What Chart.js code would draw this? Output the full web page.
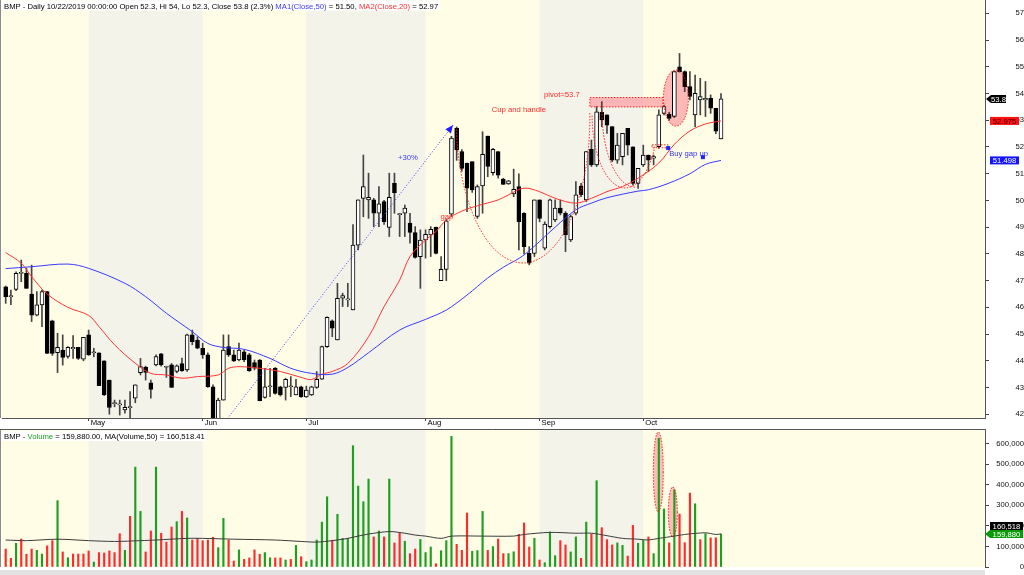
<!DOCTYPE html>
<html>
<head>
<meta charset="utf-8">
<script src="https://cdn.jsdelivr.net/npm/chart.js@4.4.0/dist/chart.umd.min.js"></script>
<style>
    html, body { margin: 0; padding: 0; background: #fff; overflow: hidden; }
    #wrap { position: relative; width: 1024px; height: 575px; }
    canvas { position: absolute; left: 0; }
    #priceChart { top: 0; }
    #volChart { top: 429px; }
</style>
</head>
<body>
<div id="wrap">
    <canvas id="priceChart" width="1024" height="429"></canvas>
    <canvas id="volChart" width="1024" height="146"></canvas>
</div>
<script>
// daily bars, 5 Apr .. 22 Oct 2019
const opens = [46.77,46.40,46.67,47.27,47.27,46.50,45.71,46.09,46.59,45.50,
    44.30,44.40,44.16,44.45,44.50,44.06,44.97,44.30,44.30,44.00,
    43.28,42.40,42.35,42.16,42.25,42.60,43.56,43.76,43.18,43.85,
    44.26,43.76,43.85,43.60,43.90,43.66,44.97,44.78,44.47,44.22,
    43.03,41.70,42.53,44.53,44.22,44.03,44.34,44.22,43.93,44.03,
    42.63,43.03,43.72,43.03,43.00,43.03,42.72,43.03,42.65,42.72,
    43.00,43.31,44.53,45.50,44.78,46.34,46.28,45.90,48.33,50.08,
    50.02,50.02,49.52,49.96,48.99,50.64,49.47,49.52,49.15,48.80,
    47.90,48.52,48.71,48.99,47.00,47.42,49.49,52.70,51.83,51.39,
    51.45,49.40,50.54,52.41,51.04,51.83,50.80,50.62,50.24,50.52,
    49.52,48.02,48.02,50.02,48.21,49.02,49.27,49.71,49.52,48.52,
    49.52,50.54,50.02,51.91,51.33,53.30,53.20,52.76,51.51,51.64,
    52.70,52.01,50.64,51.33,51.70,51.58,52.01,53.26,53.22,53.14,
    55.00,54.82,54.26,53.20,53.76,53.76,53.82,53.45,52.30];
const highs = [46.80,46.65,47.33,47.77,47.46,47.58,46.59,46.65,46.60,45.52,
    45.03,44.97,44.53,44.94,44.50,44.88,45.15,44.47,44.30,44.00,
    43.28,42.53,42.53,42.53,42.85,43.10,44.09,43.80,43.28,44.22,
    44.28,43.80,43.90,43.85,44.10,45.00,45.15,44.90,44.66,44.30,
    43.10,42.60,44.97,44.97,44.40,44.66,44.40,44.28,44.03,44.05,
    43.72,43.72,43.75,43.05,43.35,43.41,43.31,43.05,43.05,43.05,
    43.60,44.55,45.65,45.53,46.90,46.53,46.90,49.10,50.02,51.70,
    51.02,50.08,50.52,50.00,51.02,51.02,49.52,49.83,49.52,49.02,
    48.90,48.90,49.02,49.00,47.90,49.30,52.40,52.75,51.90,51.40,
    51.45,50.58,52.57,52.41,51.95,51.83,50.83,50.75,51.17,51.00,
    49.55,48.27,50.02,50.02,49.20,50.05,50.02,50.02,49.58,49.46,
    50.71,50.64,51.83,52.26,53.51,53.70,53.20,52.76,52.51,52.51,
    52.70,52.01,51.20,52.07,51.70,51.70,53.39,53.57,53.30,54.82,
    55.50,54.85,54.82,54.69,54.57,54.45,53.95,53.45,54.00];
const lows = [46.15,46.10,46.62,46.96,46.71,45.47,45.68,45.28,44.28,44.20,
    43.56,43.84,44.10,44.09,44.05,44.00,44.20,44.15,43.07,42.70,
    42.00,42.28,41.97,42.04,41.85,42.43,43.47,43.28,42.60,43.81,
    43.80,43.38,43.00,43.55,43.60,43.60,44.60,44.45,44.09,43.00,
    41.40,41.60,42.53,44.16,43.97,44.00,43.97,43.60,43.66,42.50,
    42.60,42.66,42.75,42.68,42.53,42.66,42.72,42.63,42.63,42.70,
    42.97,43.30,44.50,44.90,44.78,46.03,46.03,45.90,48.15,49.39,
    49.33,49.02,49.02,49.10,48.65,49.52,48.65,48.65,48.40,47.84,
    46.71,47.84,47.90,48.00,47.00,47.00,49.40,51.50,51.10,49.58,
    50.30,49.33,49.52,50.89,50.95,50.83,50.60,50.60,50.14,48.15,
    48.00,47.59,47.90,49.20,48.15,48.96,49.21,49.46,48.08,48.46,
    49.46,50.14,49.96,51.27,51.27,52.76,52.51,51.45,51.39,51.33,
    51.70,50.58,50.45,51.27,51.08,51.33,51.95,53.20,53.00,53.10,
    54.80,54.07,53.76,52.76,53.20,53.14,53.26,52.50,52.30];
const closes = [46.40,46.42,47.27,47.30,46.71,45.71,46.09,46.59,44.28,44.28,
    44.50,44.13,44.50,44.50,44.09,44.88,44.22,44.30,43.07,42.72,
    42.26,42.40,42.35,42.26,42.25,43.10,43.78,43.57,42.93,44.16,
    43.85,43.76,43.00,43.81,43.63,44.97,44.72,44.47,44.22,43.03,
    41.60,42.53,44.40,44.22,44.00,44.40,44.03,43.63,43.72,42.51,
    43.03,43.05,42.78,42.72,43.31,43.03,43.03,42.66,42.90,43.03,
    43.31,44.53,45.63,45.22,46.34,46.44,46.30,48.33,50.02,50.52,
    50.12,49.52,49.87,49.21,50.12,50.29,49.47,49.71,48.80,47.87,
    48.52,48.73,48.92,48.02,47.42,49.24,52.33,51.89,51.20,50.46,
    50.39,50.52,51.73,51.27,51.91,50.95,50.60,50.73,50.42,49.21,
    48.27,47.65,50.02,49.33,49.12,50.02,49.71,49.52,48.71,49.40,
    50.21,50.21,51.83,51.33,53.32,53.01,52.82,51.51,52.07,52.51,
    52.07,50.64,51.20,51.70,51.51,51.64,53.20,53.51,53.07,54.82,
    54.82,54.26,53.89,54.01,53.89,53.82,53.45,52.59,53.80];
const volumes = [87000,42000,115000,136000,62000,87000,81000,63000,103000,128000,
    322000,73000,45000,63000,63000,63000,78000,24000,70000,68000,
    78000,70000,162000,81000,246000,485000,270000,73000,175000,485000,
    164000,121000,194000,220000,270000,238000,131000,139000,128000,131000,
    144000,94000,236000,130000,29000,83000,37000,44000,83000,62000,
    70000,45000,44000,44000,34000,37000,105000,50000,26000,34000,
    131000,218000,341000,130000,256000,139000,139000,589000,393000,317000,
    427000,146000,175000,146000,427000,117000,164000,125000,65000,87000,
    134000,70000,97000,16000,79000,128000,634000,110000,81000,262000,
    76000,80000,270000,81000,99000,136000,65000,65000,74000,159000,
    214000,97000,139000,34000,21000,170000,55000,128000,107000,73000,
    146000,42000,218000,159000,419000,191000,133000,107000,117000,105000,
    53000,202000,115000,130000,146000,65000,625000,282000,117000,375000,
    257000,118000,359000,307000,133000,162000,141000,142000,159880];
// G = up volume bar, R = down volume bar
const volUp = 'RRGRRRGGRR' + 'GRGRRRRGRR' + 'RRRGRGGRRG' + 'RRRGRGRRRR' + 'RGGRRGRRRR' +
    'GGRRGRGRGG' + 'GGGRGGGGGG' + 'GRGRGRRGRR' + 'GGGRGGGRRR' + 'GGGRGRRGGR' +
    'RRGRGGGRRG' + 'GRGRGRRRGG' + 'RRGGRGGGRG' + 'RRRGRGRRG';

// moving averages at these bars
const ma50Bars = [0, 5, 12, 16, 23, 27, 31, 36, 39, 42, 46, 51, 55, 59, 63, 66, 70, 76, 81, 85, 89, 93, 96, 100, 106, 110, 113, 116, 122, 124, 128, 132, 135, 138];
const ma50Vals = [47.45, 47.52, 47.62, 47.46, 46.9, 46.4, 45.78, 45.09, 44.65, 44.5, 44.43, 44.09, 43.72, 43.53, 43.5, 43.75, 44.3, 45.15, 45.55, 45.9, 46.46, 47.1, 47.5, 47.96, 49.0, 49.65, 49.9, 50.1, 50.35, 50.4, 50.65, 51.0, 51.35, 51.498];
const ma20Bars = [0, 3, 5, 8, 12, 16, 18, 21, 25, 28, 31, 34, 37, 41, 43, 45, 49, 53, 57, 59, 61, 63, 66, 70, 73, 76, 78, 81, 83, 85, 88, 91, 95, 97, 100, 103, 106, 110, 113, 116, 119, 122, 126, 129, 132, 135, 138];
const ma20Vals = [48.05, 47.65, 47.15, 46.5, 46.0, 45.7, 45.28, 44.6, 43.91, 43.53, 43.47, 43.35, 43.41, 43.47, 43.72, 43.78, 43.72, 43.6, 43.38, 43.3, 43.5, 43.6, 43.9, 44.9, 46.03, 47.02, 47.9, 48.52, 48.83, 49.27, 49.6, 49.8, 50.02, 50.21, 50.46, 50.33, 50.08, 49.9, 50.08, 50.33, 50.52, 50.83, 51.4, 52.1, 52.6, 52.86, 52.975];
const volMaBars = [0, 4, 10, 16, 21, 26, 29, 35, 38, 44, 52, 57, 60, 63, 66, 68, 70, 74, 77, 79, 81, 84, 86, 92, 98, 100, 105, 110, 113, 116, 119, 122, 124, 126, 129, 131, 135, 137, 138];
const volMaVals = [131000, 128000, 135000, 128000, 124000, 128000, 131000, 139000, 139000, 135000, 131000, 124000, 121000, 128000, 139000, 150000, 160000, 172000, 164000, 155000, 150000, 139000, 150000, 150000, 150000, 158000, 168000, 164000, 164000, 152000, 139000, 135000, 131000, 139000, 150000, 158000, 166000, 158000, 160518];

const monthNames = ['May', 'Jun', 'Jul', 'Aug', 'Sep', 'Oct'];
const monthStarts = [16, 38, 58, 81, 103, 123];
const priceTicks = [42, 43, 44, 45, 46, 47, 48, 49, 50, 51, 52, 53, 54, 55, 56, 57];
const volTicks = [0, 100000, 200000, 300000, 400000, 500000, 600000];

// drawings on the chart, in bar / price units
const rallyLine = [[41, 41.39], [86.3, 52.82]];
const cupArc = { cx: 99.8, cy: 53.08, rx: 12.9, ry: 5.42, a0: -0.035, a1: 3.07 };
const handleArcs = [
    { cx: 119.5, cy: 53.2, rx: 6.37, ry: 2.73, a0: 0.45, a1: Math.PI },
    { cx: 121.4, cy: 53.38, rx: 6.37, ry: 2.88, a0: Math.PI / 2, a1: Math.PI }
];
const pivotBox = [112.7, 126.8, 53.5, 53.85];
const pivotOval = { cx: 129.3, cy: 53.83, rx: 2.41, ry: 1.05 };
const gapBox = [124.7, 127.8, 51.97, 52.08];
const buyMarks = [[127.8, 51.96], [134.5, 51.62]];
const priceNotes = [
    ['+30%', 77.6, 51.59, '#3b3bff', 'center'],
    ['Cup and handle', 99.0, 53.38, '#ff2a2a', 'center'],
    ['pivot=53.7', 107.3, 53.94, '#ff2a2a', 'center'],
    ['gap', 85.1, 49.38, '#ff2a2a', 'center'],
    ['Buy gap up', 128.0, 51.74, '#2f2fff', 'left']
];
const volOvals = [
    { cx: 125.9, cy: 461000, rx: 0.96, ry: 194000 },
    { cx: 128.7, cy: 267000, rx: 0.87, ry: 121000 }
];

const FONT = '"Liberation Sans", Arial, sans-serif';
const FS = 7.7;
const CREAM = '#fffde6';
const BAND = '#f3f3ea';
const xMin = -0.714, xMax = 188.93;
const last = closes.length - 1;

Chart.defaults.font.family = FONT;
Chart.defaults.font.size = FS;

function drawBands(chart) {
    const { ctx, chartArea: a, scales: { x } } = chart;
    ctx.save();
    ctx.fillStyle = CREAM;
    ctx.fillRect(a.left, a.top, a.right - a.left, a.bottom - a.top);
    ctx.fillStyle = BAND;
    for (let m = 0; m < monthStarts.length - 1; m += 2) {
        const x0 = x.getPixelForValue(monthStarts[m]);
        const x1 = x.getPixelForValue(monthStarts[m + 1]);
        ctx.fillRect(x0, a.top, x1 - x0, a.bottom - a.top);
    }
    ctx.strokeStyle = '#8a8a8a';
    ctx.beginPath(); ctx.moveTo(0.5, a.top); ctx.lineTo(0.5, a.bottom); ctx.stroke();
    ctx.restore();
}

function ovalPath(ctx, x, y, e, a0 = 0, a1 = Math.PI * 2) {
    const cx = x.getPixelForValue(e.cx), cy = y.getPixelForValue(e.cy);
    const rx = Math.abs(x.getPixelForValue(e.cx + e.rx) - cx);
    const ry = Math.abs(y.getPixelForValue(e.cy + e.ry) - cy);
    ctx.beginPath();
    ctx.ellipse(cx, cy, rx, ry, 0, a0, a1);
}

function tag(ctx, yp, text, bg, fg, x0, x1, arrow) {
    const h = 4;
    ctx.fillStyle = bg;
    ctx.beginPath();
    if (arrow) {
        ctx.moveTo(x0 - 5, yp);
        ctx.lineTo(x0, yp - h);
    } else {
        ctx.moveTo(x0, yp - h);
    }
    ctx.lineTo(x1, yp - h);
    ctx.lineTo(x1, yp + h);
    ctx.lineTo(x0, yp + h);
    ctx.closePath();
    ctx.fill();
    ctx.fillStyle = fg;
    ctx.textAlign = 'center';
    ctx.textBaseline = 'middle';
    ctx.fillText(text, (x0 + x1) / 2, yp + 0.5);
}

function header(ctx, x, y, parts) {
    ctx.font = FS + 'px ' + FONT;
    let w = 0;
    parts.forEach(p => { w += ctx.measureText(p[0]).width; });
    ctx.fillStyle = '#fff';
    ctx.fillRect(x - 2, y - 8, w + 4, 10);
    ctx.textAlign = 'left';
    ctx.textBaseline = 'alphabetic';
    parts.forEach(p => {
        ctx.fillStyle = p[1];
        ctx.fillText(p[0], x, y);
        x += ctx.measureText(p[0]).width;
    });
}

const pricePlugin = {
    id: 'priceDecor',
    beforeDraw: drawBands,
    beforeDatasetsDraw(chart) {
        const { ctx, chartArea: a, scales: { x, y } } = chart;
        ctx.save();
        ctx.beginPath(); ctx.rect(a.left, a.top, a.right - a.left, a.bottom - a.top); ctx.clip();
        ctx.fillStyle = 'rgba(255, 160, 165, 0.75)';
        const bx0 = x.getPixelForValue(pivotBox[0]), bx1 = x.getPixelForValue(pivotBox[1]);
        const by0 = y.getPixelForValue(pivotBox[3]), by1 = y.getPixelForValue(pivotBox[2]);
        ctx.fillRect(bx0, by0, bx1 - bx0, by1 - by0);
        ovalPath(ctx, x, y, pivotOval);
        ctx.fill();
        ctx.restore();
    },
    afterDatasetsDraw(chart) {
        const { ctx, chartArea: a, scales: { x, y } } = chart;
        ctx.save();
        ctx.beginPath(); ctx.rect(a.left, a.top, a.right - a.left, a.bottom - a.top); ctx.clip();

        // +30% run-up line with arrow head
        const p0 = [x.getPixelForValue(rallyLine[0][0]), y.getPixelForValue(rallyLine[0][1])];
        const p1 = [x.getPixelForValue(rallyLine[1][0]), y.getPixelForValue(rallyLine[1][1])];
        ctx.strokeStyle = '#3b3bff';
        ctx.lineWidth = 1;
        ctx.setLineDash([1, 2]);
        ctx.beginPath(); ctx.moveTo(p0[0], p0[1]); ctx.lineTo(p1[0], p1[1]); ctx.stroke();
        ctx.setLineDash([]);
        const ang = Math.atan2(p1[1] - p0[1], p1[0] - p0[0]);
        ctx.fillStyle = '#2020ff';
        ctx.beginPath();
        ctx.moveTo(p1[0], p1[1]);
        ctx.lineTo(p1[0] - 8 * Math.cos(ang) + 3.5 * Math.sin(ang), p1[1] - 8 * Math.sin(ang) - 3.5 * Math.cos(ang));
        ctx.lineTo(p1[0] - 8 * Math.cos(ang) - 3.5 * Math.sin(ang), p1[1] - 8 * Math.sin(ang) + 3.5 * Math.cos(ang));
        ctx.closePath(); ctx.fill();

        // cup and handle outline
        ctx.strokeStyle = '#ff1a1a';
        ctx.setLineDash([1.5, 1.5]);
        ovalPath(ctx, x, y, cupArc, cupArc.a0, cupArc.a1);
        ctx.stroke();
        handleArcs.forEach(h => { ovalPath(ctx, x, y, h, h.a0, h.a1); ctx.stroke(); });
        const bx0 = x.getPixelForValue(pivotBox[0]), bx1 = x.getPixelForValue(pivotBox[1]);
        const by0 = y.getPixelForValue(pivotBox[3]), by1 = y.getPixelForValue(pivotBox[2]);
        ctx.strokeRect(bx0, by0, bx1 - bx0, by1 - by0);
        ovalPath(ctx, x, y, pivotOval);
        ctx.stroke();
        const gx0 = x.getPixelForValue(gapBox[0]), gx1 = x.getPixelForValue(gapBox[1]);
        const gy0 = y.getPixelForValue(gapBox[3]), gy1 = y.getPixelForValue(gapBox[2]);
        ctx.strokeRect(gx0, gy0, gx1 - gx0, gy1 - gy0);
        ctx.setLineDash([]);

        ctx.fillStyle = '#1f1fff';
        buyMarks.forEach(m => {
            ctx.fillRect(x.getPixelForValue(m[0]) - 2, y.getPixelForValue(m[1]) - 2, 4, 4);
        });

        ctx.font = FS + 'px ' + FONT;
        ctx.textBaseline = 'middle';
        priceNotes.forEach(n => {
            ctx.fillStyle = n[3];
            ctx.textAlign = n[4];
            ctx.fillText(n[0], x.getPixelForValue(n[1]), y.getPixelForValue(n[2]));
        });
        ctx.restore();
    },
    afterDraw(chart) {
        const { ctx, scales: { y } } = chart;
        ctx.save();
        ctx.font = FS + 'px ' + FONT;
        tag(ctx, y.getPixelForValue(ma20Vals[ma20Vals.length - 1]), ma20Vals[ma20Vals.length - 1].toFixed(3), '#ff1010', '#300', 990, 1019, false);
        tag(ctx, y.getPixelForValue(ma50Vals[ma50Vals.length - 1]), ma50Vals[ma50Vals.length - 1].toFixed(3), '#1414ff', '#fff', 990, 1019, false);
        tag(ctx, y.getPixelForValue(closes[last]), String(closes[last]), '#000', '#fff', 991, 1006, true);
        header(ctx, 4, 8.5, [
            ['BMP - Daily 10/22/2019 00:00:00 Open 52.3, Hi 54, Lo 52.3, Close 53.8 (2.3%) ', '#000'],
            ['MA1(Close,50)', '#3b3bff'],
            [' = 51.50, ', '#000'],
            ['MA2(Close,20)', '#ff3030'],
            [' = 52.97', '#000']
        ]);
        ctx.restore();
    }
};

const volPlugin = {
    id: 'volDecor',
    beforeDraw(chart) {
        drawBands(chart);
        const { ctx, chartArea: a, scales: { x, y } } = chart;
        ctx.save();
        ctx.strokeStyle = '#555';
        ctx.beginPath(); ctx.moveTo(0, 0.5); ctx.lineTo(a.right, 0.5); ctx.stroke();
        ctx.fillStyle = '#e3e3e3';
        ctx.fillRect(0, a.bottom + 3, a.right, chart.height - a.bottom - 3);
        ctx.fillStyle = 'rgba(255, 160, 165, 0.7)';
        volOvals.forEach(o => { ovalPath(ctx, x, y, o); ctx.fill(); });
        ctx.restore();
    },
    afterDatasetsDraw(chart) {
        const { ctx, scales: { x, y } } = chart;
        ctx.save();
        ctx.strokeStyle = '#ff1a1a';
        ctx.setLineDash([1.5, 1.5]);
        volOvals.forEach(o => { ovalPath(ctx, x, y, o); ctx.stroke(); });
        ctx.restore();
    },
    afterDraw(chart) {
        const { ctx, scales: { y } } = chart;
        ctx.save();
        ctx.font = FS + 'px ' + FONT;
        const gy = y.getPixelForValue(volumes[last]);
        tag(ctx, gy - 8, volMaVals[volMaVals.length - 1].toLocaleString('en-US'), '#000', '#fff', 990, 1023, false);
        tag(ctx, gy, volumes[last].toLocaleString('en-US'), '#0a9a0a', '#fff', 990, 1023, true);
        header(ctx, 4, 10, [
            ['BMP - ', '#000'],
            ['Volume', '#1fa01f'],
            [' = 159,880.00, MA(Volume,50) = 160,518.41', '#000']
        ]);
        ctx.restore();
    }
};

function xScale(show) {
    return {
        type: 'linear', min: xMin, max: xMax, position: 'bottom', display: show, offset: false,
        afterBuildTicks: s => { s.ticks = monthStarts.map(v => ({ value: v })); },
        afterFit: s => { s.height = show ? 11 : 0; s.paddingLeft = 0; s.paddingRight = 0; },
        ticks: {
            callback: v => monthNames[monthStarts.indexOf(v)],
            align: 'start', labelOffset: 2, padding: -3, maxRotation: 0, autoSkip: false,
            color: '#000', font: { size: FS }
        },
        grid: { drawOnChartArea: false, offset: false, tickLength: 3, color: '#444' },
        border: { color: '#555' }
    };
}

function yScale(min, max, tickList, padding, fmt) {
    return {
        position: 'right', min: min, max: max, beginAtZero: false,
        afterBuildTicks: s => { s.ticks = tickList.map(v => ({ value: v })); },
        ticks: { crossAlign: 'far', padding: padding, color: '#111', font: { size: FS }, callback: fmt },
        grid: { drawOnChartArea: false, tickLength: 4, color: '#444' },
        border: { color: '#555' },
        afterFit: s => { s.width = 39; s.paddingTop = 0; s.paddingBottom = 0; }
    };
}

const xs = closes.map((c, i) => i);

new Chart(document.getElementById('priceChart'), {
    type: 'bar',
    data: {
        datasets: [
            {
                type: 'line', label: 'MA50', order: 0,
                data: ma50Bars.map((b, i) => ({ x: b, y: ma50Vals[i] })),
                borderColor: '#3a3aff', borderWidth: 1, pointRadius: 0, tension: 0.35
            },
            {
                type: 'line', label: 'MA20', order: 0,
                data: ma20Bars.map((b, i) => ({ x: b, y: ma20Vals[i] })),
                borderColor: '#ff3434', borderWidth: 1, pointRadius: 0, tension: 0.35
            },
            {
                label: 'body', order: 1, grouped: false,
                data: xs.map(i => ({ x: i, y: [opens[i], closes[i]] })),
                backgroundColor: xs.map(i => closes[i] >= opens[i] ? '#fff' : '#000'),
                borderColor: '#000', borderWidth: 1, borderSkipped: false,
                barThickness: 4, minBarLength: 1
            },
            {
                label: 'wick', order: 2, grouped: false,
                data: xs.map(i => ({ x: i, y: [lows[i], highs[i]] })),
                backgroundColor: '#444', barThickness: 1
            }
        ]
    },
    options: {
        responsive: false, animation: false, events: [],
        layout: { padding: { left: 2, right: 0, top: 0, bottom: 0 } },
        plugins: { legend: { display: false }, tooltip: { enabled: false } },
        scales: {
            x: xScale(true),
            y: yScale(41.86, 57.5, priceTicks, 23, v => String(v))
        }
    },
    plugins: [pricePlugin]
});

new Chart(document.getElementById('volChart'), {
    type: 'bar',
    data: {
        datasets: [
            {
                type: 'line', label: 'MA(Volume,50)', order: 0,
                data: volMaBars.map((b, i) => ({ x: b, y: volMaVals[i] })),
                borderColor: '#3c3c3c', borderWidth: 1, pointRadius: 0, tension: 0.3
            },
            {
                label: 'Volume', order: 1, grouped: false,
                data: xs.map(i => ({ x: i, y: volumes[i] })),
                backgroundColor: xs.map(i => volUp[i] === 'G' ? '#1f9f1f' : '#ff2b2b'),
                barThickness: 1.5
            }
        ]
    },
    options: {
        responsive: false, animation: false, events: [],
        layout: { padding: { left: 2, right: 0, top: 0, bottom: 8 } },
        plugins: { legend: { display: false }, tooltip: { enabled: false } },
        scales: {
            x: xScale(false),
            y: yScale(0, 670000, volTicks, 4, v => v.toLocaleString('en-US'))
        }
    },
    plugins: [volPlugin]
});
</script>
</body>
</html>
